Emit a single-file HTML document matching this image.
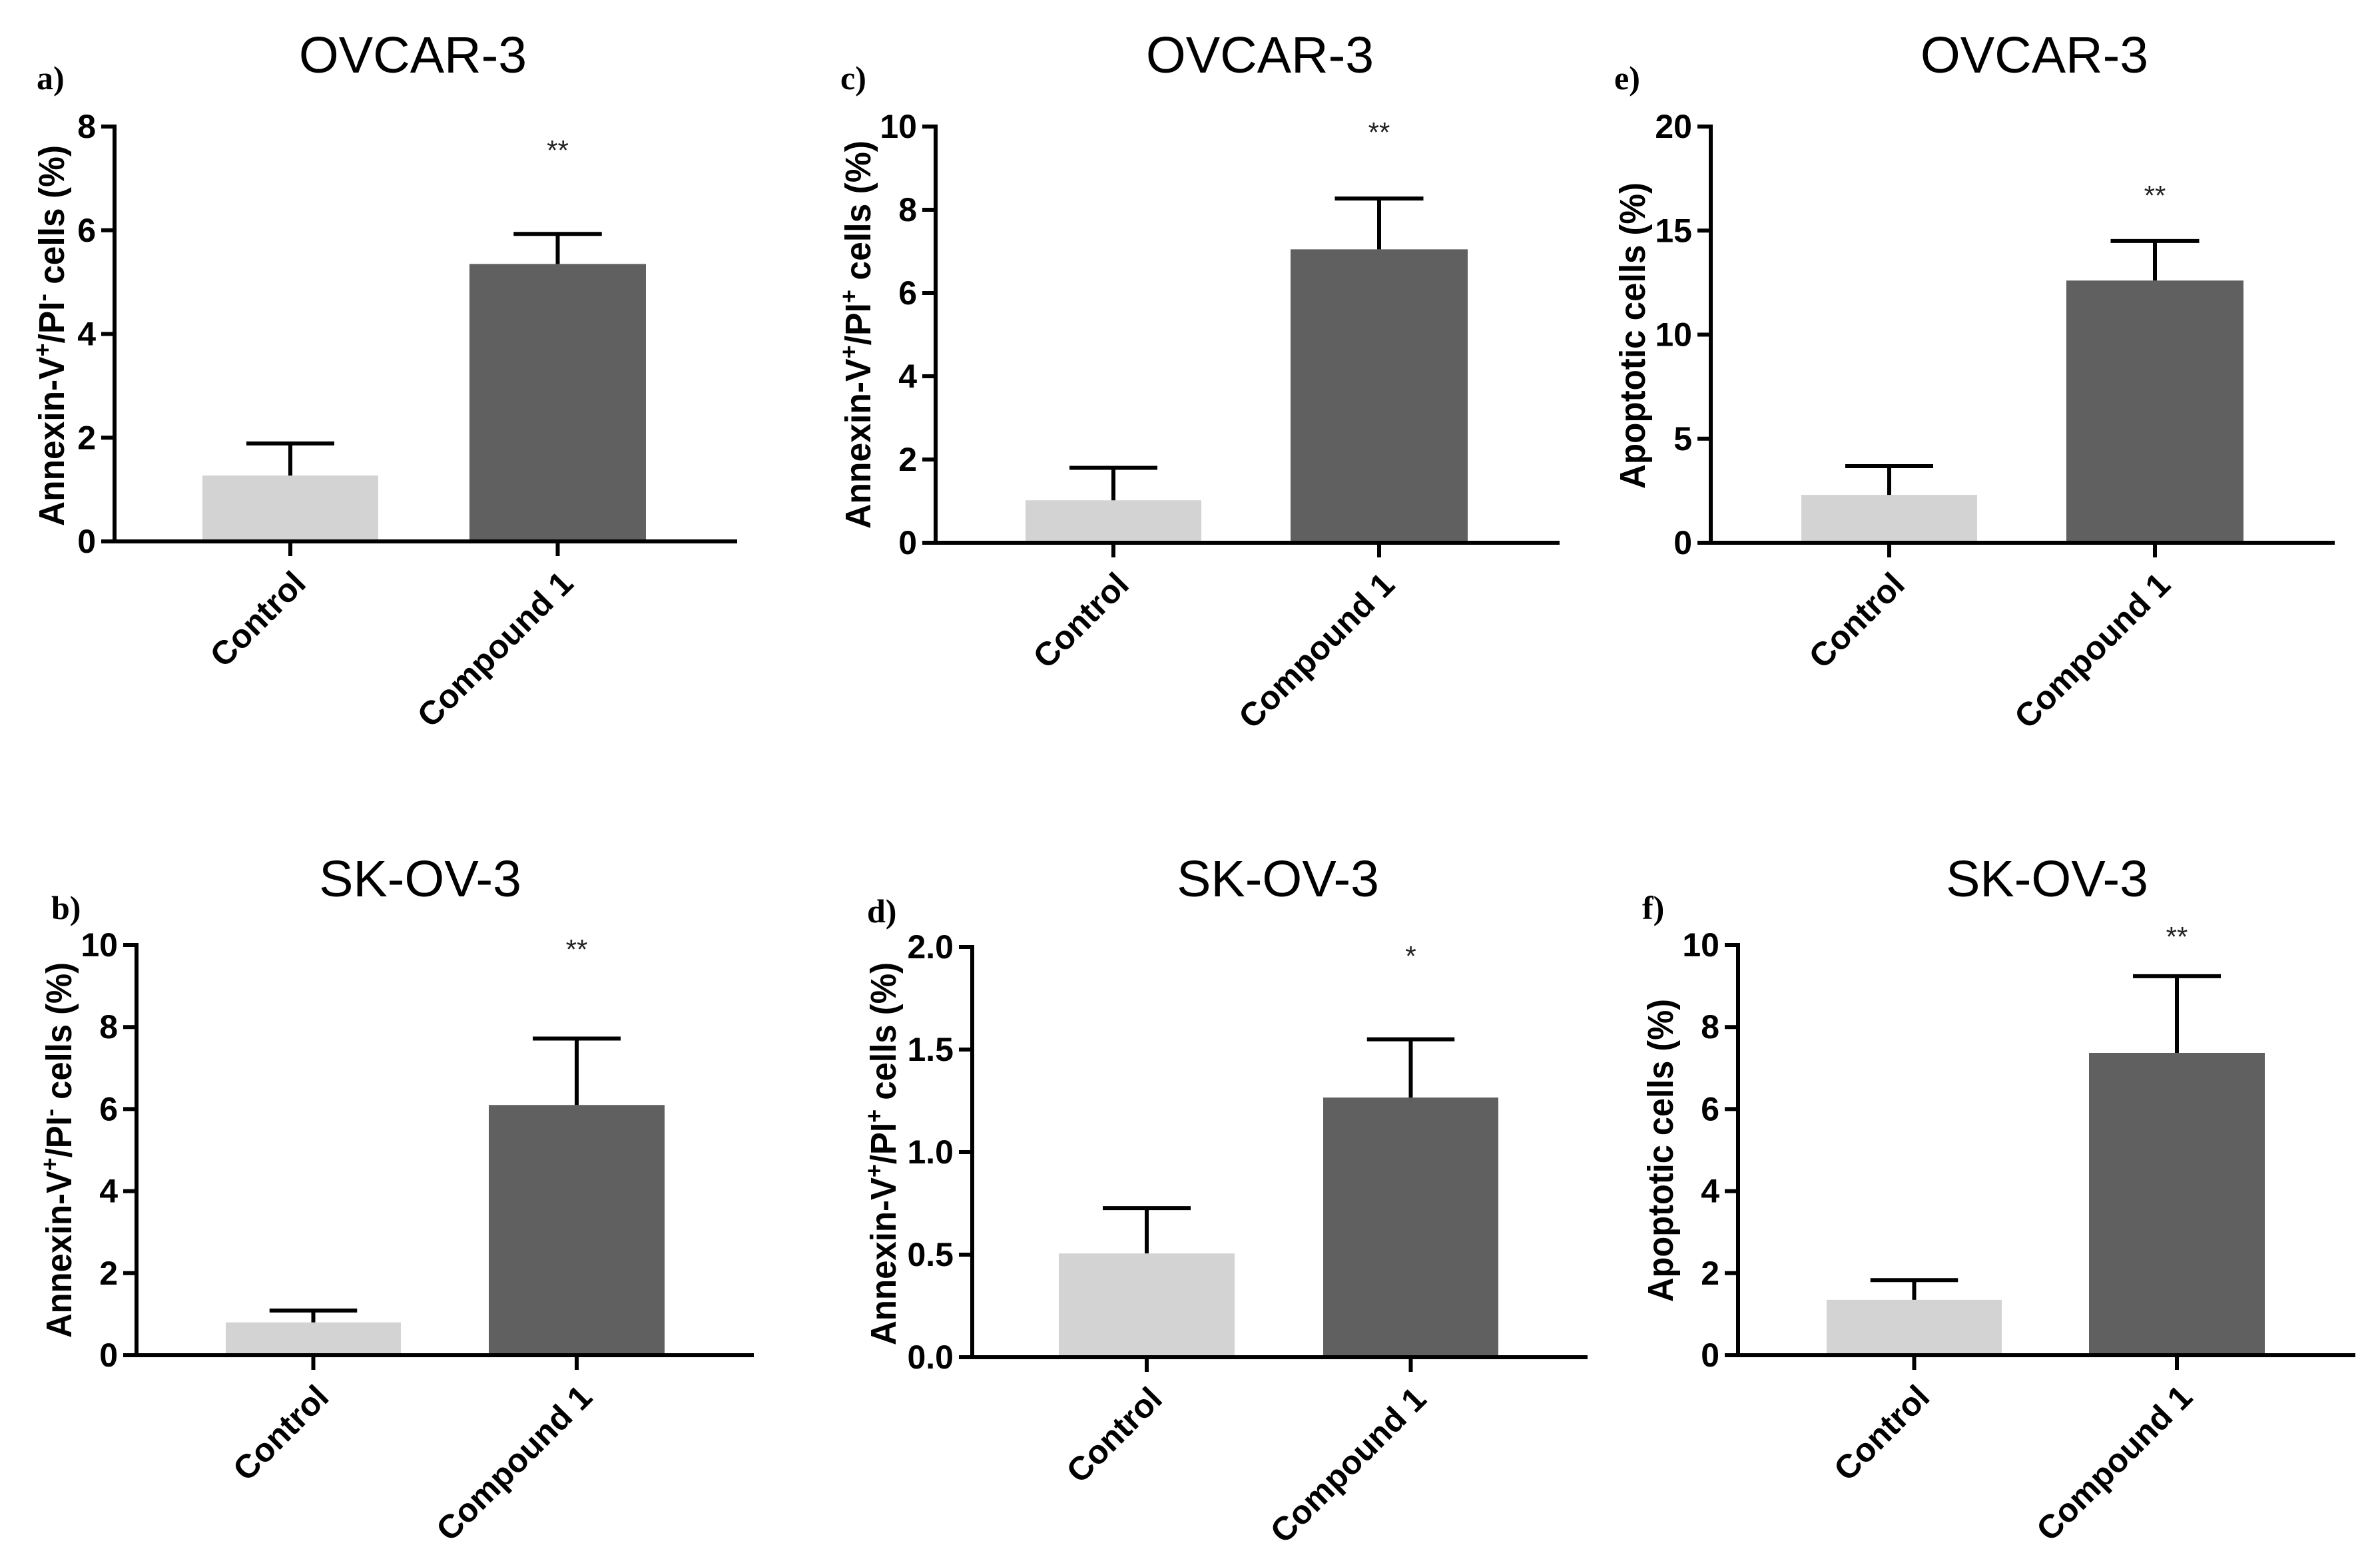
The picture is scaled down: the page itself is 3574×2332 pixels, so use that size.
<!DOCTYPE html>
<html>
<head>
<meta charset="utf-8">
<style>
  html, body { margin: 0; padding: 0; background: #ffffff; }
  svg { display: block; }
  text { font-family: "Liberation Sans", Arial, sans-serif; }
</style>
</head>
<body>
<svg id="fig" width="3574" height="2332" viewBox="0 0 3574 2332" xmlns="http://www.w3.org/2000/svg"></svg>
<script>
// ---- data ----
const categories = ["Control", "Compound 1"];

const valuesA = [1.27, 5.35];
const errorsA = [0.62, 0.58];
const ticksA = [0, 2, 4, 6, 8];

const valuesB = [0.80, 6.10];
const errorsB = [0.29, 1.62];
const ticksB = [0, 2, 4, 6, 8, 10];

const valuesC = [1.02, 7.05];
const errorsC = [0.78, 1.22];
const ticksC = [0, 2, 4, 6, 8, 10];

const valuesD = [0.506, 1.266];
const errorsD = [0.221, 0.284];
const ticksD = [0.0, 0.5, 1.0, 1.5, 2.0];
const tickLabelsD = ["0.0", "0.5", "1.0", "1.5", "2.0"];

const valuesE = [2.3, 12.6];
const errorsE = [1.38, 1.9];
const ticksE = [0, 5, 10, 15, 20];

const valuesF = [1.35, 7.37];
const errorsF = [0.48, 1.87];
const ticksF = [0, 2, 4, 6, 8, 10];

const significance = ["**", "**", "**", "*", "**", "**"];
const panelLetters = ["a)", "b)", "c)", "d)", "e)", "f)"];
const panelTitles = ["OVCAR-3", "SK-OV-3", "OVCAR-3", "SK-OV-3", "OVCAR-3", "SK-OV-3"];

// ---- layout (pixel geometry, not data) ----
const NS = "http://www.w3.org/2000/svg";
const svg = document.getElementById("fig");

function el(tag, attrs, parent) {
  const e = document.createElementNS(NS, tag);
  for (const k in attrs) e.setAttribute(k, attrs[k]);
  (parent || svg).appendChild(e);
  return e;
}

const panels = [
  {key:"a", vals:valuesA, errs:errorsA, ticks:ticksA, labels:null,
   ax:172, top:190, zero:813, end:1107, bars:[[304,568],[705,970]],
   titleX:620, titleY:109, letX:55, letY:134, ylX:77, ylTop:218, ylBot:790, ylType:"neg", starY:240},
  {key:"b", vals:valuesB, errs:errorsB, ticks:ticksB, labels:null,
   ax:205, top:1419, zero:2035, end:1132, bars:[[339,602],[734,998]],
   titleX:631, titleY:1346, letX:77, letY:1380, ylX:88, ylTop:1445, ylBot:2009, ylType:"neg", starY:1440},
  {key:"c", vals:valuesC, errs:errorsC, ticks:ticksC, labels:null,
   ax:1405, top:190, zero:815, end:2342, bars:[[1540,1804],[1938,2204]],
   titleX:1892, titleY:109, letX:1262, letY:134, ylX:1288, ylTop:211, ylBot:794, ylType:"pos", starY:213},
  {key:"d", vals:valuesD, errs:errorsD, ticks:ticksD, labels:tickLabelsD,
   ax:1460, top:1422, zero:2038, end:2384, bars:[[1590,1854],[1987,2250]],
   titleX:1919, titleY:1346, letX:1302, letY:1385, ylX:1326, ylTop:1445, ylBot:2020, ylType:"pos", starY:1450},
  {key:"e", vals:valuesE, errs:errorsE, ticks:ticksE, labels:null,
   ax:2569, top:190, zero:815, end:3506, bars:[[2705,2969],[3103,3369]],
   titleX:3055, titleY:109, letX:2424, letY:134, ylX:2451, ylTop:274, ylBot:734, ylType:"apo", starY:308},
  {key:"f", vals:valuesF, errs:errorsF, ticks:ticksF, labels:null,
   ax:2610, top:1419, zero:2035, end:3537, bars:[[2743,3006],[3137,3401]],
   titleX:3074, titleY:1346, letX:2466, letY:1380, ylX:2493, ylTop:1500, ylBot:1955, ylType:"apo", starY:1421}
];
const barColors = ["#d3d3d3", "#606060"];
const LW = 6;

panels.forEach((p, i) => {
  const g = el("g", {});
  
  

  const maxV = p.ticks[p.ticks.length - 1];
  const yScale = v => p.zero - (v / maxV) * (p.zero - p.top);

  const t = el("text", {x:p.titleX, y:p.titleY, "font-size":77, "text-anchor":"middle", fill:"#000"}, g);
  t.textContent = panelTitles[i];
  
  

  const l = el("text", {x:p.letX, y:p.letY, "font-size":50, "font-weight":"bold", fill:"#000",
    style:"font-family:'Liberation Serif',serif"}, g);
  l.textContent = panelLetters[i];
  
  

  p.vals.forEach((v, j) => {
    const [x0, x1] = p.bars[j];
    const yTop = yScale(v);
    const r = el("rect", {x:x0, y:yTop, width:x1 - x0, height:p.zero - yTop, fill:barColors[j]}, g);
    
    
    const cx = (x0 + x1) / 2;
    const ye = yScale(v + p.errs[j]);
    const half = (x1 - x0) * 0.25;
    const eg = el("g", {stroke:"#000", "stroke-width":LW}, g);
    
    
    el("line", {x1:cx, y1:yTop, x2:cx, y2:ye}, eg);
    el("line", {x1:cx - half, y1:ye, x2:cx + half, y2:ye}, eg);
  });

  const cxC = (p.bars[1][0] + p.bars[1][1]) / 2;
  const s = el("text", {x:cxC, y:p.starY, "font-size":42, "text-anchor":"middle", fill:"#222"}, g);
  s.textContent = significance[i];
  
  

  const ya = el("line", {x1:p.ax, y1:p.top - LW/2, x2:p.ax, y2:p.zero + LW/2, stroke:"#000", "stroke-width":LW}, g);
  
  
  const xa = el("line", {x1:p.ax - 20, y1:p.zero, x2:p.end, y2:p.zero, stroke:"#000", "stroke-width":LW}, g);
  
  

  p.ticks.forEach((tv, k) => {
    const y = yScale(tv);
    el("line", {x1:p.ax - 20, y1:y, x2:p.ax, y2:y, stroke:"#000", "stroke-width":LW}, g);
    const tl = el("text", {x:p.ax - 28, y:y + 17, "font-size":50, "font-weight":"bold", "text-anchor":"end", fill:"#000"}, g);
    tl.textContent = p.labels ? p.labels[k] : String(tv);
    
    
  });

  categories.forEach((c, j) => {
    const cx = (p.bars[j][0] + p.bars[j][1]) / 2;
    el("line", {x1:cx, y1:p.zero, x2:cx, y2:p.zero + 22, stroke:"#000", "stroke-width":LW}, g);
    const bx = cx + 26, by = p.zero + 66;
    const cl = el("text", {x:bx, y:by, "font-size":50, "font-weight":"bold", "text-anchor":"end", fill:"#000",
      transform:"rotate(-45 " + bx + " " + by + ")"}, g);
    cl.textContent = c;
    
    
  });

  const cy = (p.ylTop + p.ylBot) / 2;
  const len = p.ylBot - p.ylTop;
  const yt = el("text", {x:p.ylX + 19, y:cy, "font-size":54, "font-weight":"bold", "text-anchor":"middle", fill:"#000",
    transform:"rotate(-90 " + (p.ylX + 19) + " " + cy + ")", textLength:len, lengthAdjust:"spacingAndGlyphs"}, g);
  
  
  if (p.ylType === "apo") {
    yt.textContent = "Apoptotic cells (%)";
  } else {
    const sign = p.ylType === "neg" ? "-" : "+";
    const parts = [["Annexin-V", false], ["+", true], ["/PI", false], [sign, true], [" cells (%)", false]];
    parts.forEach(([txt, sup]) => {
      const ts = el("tspan", sup ? {"font-size":36, "baseline-shift":"super"} : {}, yt);
      ts.textContent = txt;
    });
  }
});
</script>
</body>
</html>
